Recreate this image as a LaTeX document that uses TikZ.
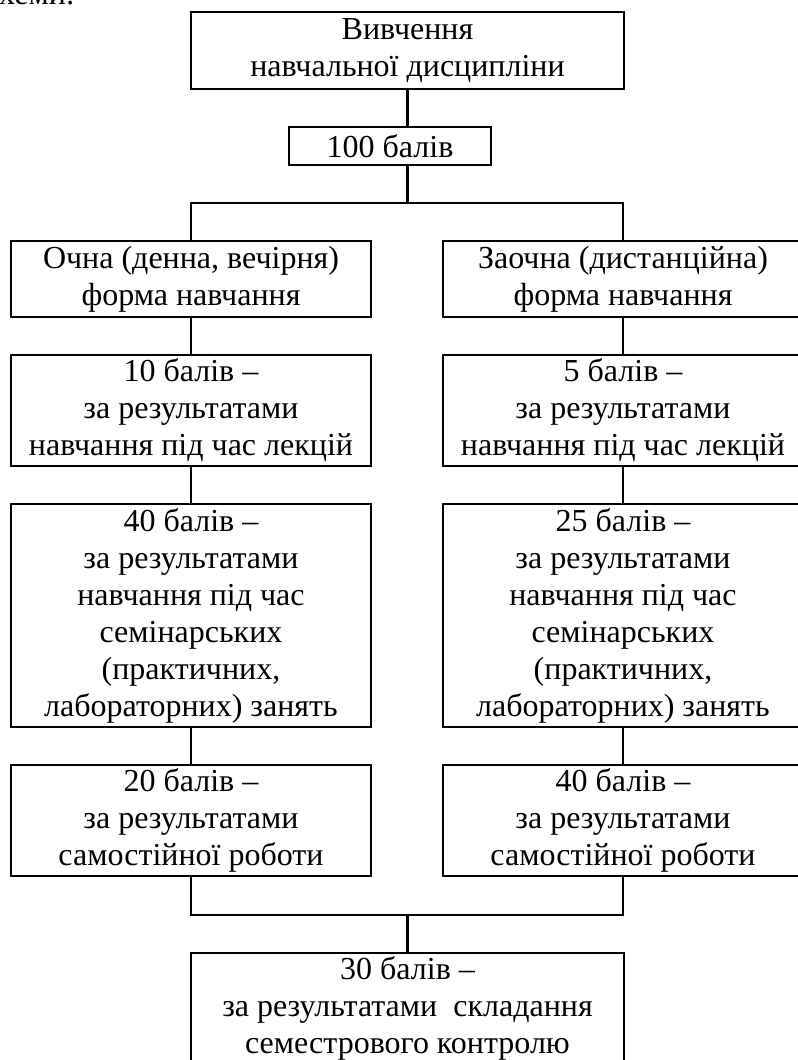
\documentclass[tikz,border=0pt]{standalone}
\usepackage{fontspec}
\setmainfont{Liberation Serif}
\begin{document}
\begin{tikzpicture}[x=0.75pt, y=-0.75pt, line width=1.8pt,
    box/.style={draw, align=center, inner sep=0pt, minimum width=270pt,
      font=\fontsize{24}{27.75}\selectfont},
    txt/.style={inner sep=0pt, font=\fontsize{24}{27.75}\selectfont}]
    \useasboundingbox (0,0) rectangle (798,1060);

    % Text above the scheme
    \node[txt, anchor=base east] (caption) at (76,4) {схеми:};

    % Top of the scheme
    \node[box, minimum width=324.75pt, minimum height=57.75pt] (study) at (407.5,50.5)
        {Вивчення\\навчальної дисципліни};
    \node[box, minimum width=151.5pt, minimum height=28.5pt] (total) at (390,146) {100 балів};
    \coordinate (split) at (407.5,203);

    % Full-time form (left)
    \node[box, minimum height=57pt] (oform) at (191,279) {Очна (денна, вечірня)\\форма навчання};
    \node[box, minimum height=83.25pt] (olect) at (191,410.5)
        {10 балів --\\за результатами\\навчання під час лекцій};
    \node[box, minimum height=167.25pt] (osem) at (191,615.5)
        {40 балів --\\за результатами\\навчання під час\\семінарських\\(практичних,\\лабораторних) занять};
    \node[box, minimum height=83.25pt] (oself) at (191,820.5)
        {20 балів --\\за результатами\\самостійної роботи};

    % Extramural form (right)
    \node[box, minimum height=57pt] (zform) at (623,279) {Заочна (дистанційна)\\форма навчання};
    \node[box, minimum height=83.25pt] (zlect) at (623,410.5)
        {5 балів --\\за результатами\\навчання під час лекцій};
    \node[box, minimum height=167.25pt] (zsem) at (623,615.5)
        {25 балів --\\за результатами\\навчання під час\\семінарських\\(практичних,\\лабораторних) занять};
    \node[box, minimum height=83.25pt] (zself) at (623,820.5)
        {40 балів --\\за результатами\\самостійної роботи};

    % Semester control
    \coordinate (merge) at (407.5,915);
    \node[box, minimum width=324.75pt, minimum height=83.25pt] (exam) at (407.5,1008.5)
        {30 балів --\\за результатами~~складання\\семестрового контролю};

    % Connections
    \draw (study.south) -- (total.north -| study.south);
    \draw (total.south -| split) -- (split);
    \draw (oform.north) |- (split) -| (zform.north);
    \draw (oform) -- (olect);
    \draw (olect) -- (osem);
    \draw (osem) -- (oself);
    \draw (zform) -- (zlect);
    \draw (zlect) -- (zsem);
    \draw (zsem) -- (zself);
    \draw (oself.south) |- (merge) -| (zself.south);
    \draw (merge) -- (exam.north);
\end{tikzpicture}
\end{document}
